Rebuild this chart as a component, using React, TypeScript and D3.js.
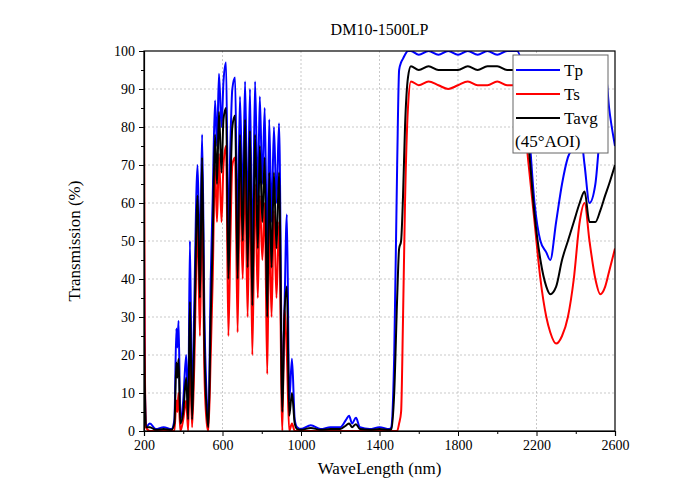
import { useEffect, useRef } from 'react';
import * as d3 from 'd3';

const wavelength = [200, 204, 210, 230, 260, 300, 340, 355, 365, 370, 376, 385, 400, 415, 425, 434, 445, 455, 473, 485, 496, 508, 520, 528, 540, 550, 562, 572, 582, 595, 605, 618, 630, 640, 650, 664, 677, 689, 703, 715, 728, 740, 752, 766, 780, 790, 803, 815, 828, 838, 850, 862, 875, 888, 905, 915, 928, 940, 954, 968, 980, 1000, 1050, 1100, 1150, 1200, 1230, 1245, 1260, 1280, 1300, 1350, 1400, 1450, 1460, 1475, 1490, 1500, 1510, 1520, 1530, 1545, 1560, 1600, 1650, 1700, 1750, 1800, 1850, 1900, 1950, 2000, 2050, 2100, 2130, 2160, 2190, 2220, 2250, 2270, 2300, 2330, 2360, 2390, 2420, 2445, 2470, 2500, 2525, 2550, 2570, 2600];
const tp = [49, 15, 1, 2, 0.5, 1, 0.5, 3, 27, 22, 29, 3, 8, 20, 5, 50, 5, 30, 70, 45, 78, 30, 8, 2, 40, 61, 87, 75, 94, 80, 92, 97, 51, 75, 90, 93, 52, 88, 60, 92, 55, 90, 45, 92, 60, 88, 65, 85, 45, 82, 55, 80, 60, 81, 10, 30, 57, 8, 19, 3, 1, 0.5, 1.5, 0.5, 1, 1, 3, 4, 2, 3.5, 1, 0.5, 1, 0.5, 1, 20, 70, 95, 97, 98, 99, 100, 100, 99, 100, 99, 100, 99, 100, 99, 100, 99, 100, 100, 95, 80, 60, 50, 47, 45, 55, 65, 72, 75, 80, 70, 60, 65, 80, 95, 85, 75];
const ts = [85, 20, 1, 0, 0, 0, 0, 0, 8, 5, 10, 0, 3, 8, 0, 19, 1, 15, 54, 25, 62, 15, 2, 0, 20, 40, 70, 55, 73, 55, 70, 75, 25, 50, 70, 72, 26, 68, 40, 70, 30, 68, 20, 65, 35, 62, 45, 60, 15, 55, 30, 58, 35, 55, 0, 32, 20, 0, 2, 0, 0, 0, 0, 0, 0, 0, 0, 0, 0, 0, 0, 0, 0, 0, 0, 0, 0, 2, 5, 30, 60, 85, 92, 91, 92, 91, 90, 91, 92, 91, 91, 92, 91, 91, 85, 70, 55, 40, 30, 26, 23, 25, 30, 40, 55, 60, 50, 40, 36, 38, 42, 48];
const tavg = [27, 12, 1, 1, 0.3, 0.5, 0.3, 2, 18, 14, 19, 2, 5, 14, 3, 34, 3, 22, 62, 35, 72, 22, 5, 1, 30, 50, 78, 65, 84, 68, 82, 85, 40, 63, 80, 83, 40, 78, 50, 82, 43, 79, 33, 78, 48, 75, 55, 72, 30, 68, 43, 68, 48, 68, 5, 30, 38, 4, 10, 2, 0.5, 0.3, 0.8, 0.3, 0.5, 0.5, 1.5, 2, 1, 1.8, 0.5, 0.3, 0.5, 0.3, 0.5, 10, 35, 48, 50, 62, 80, 93, 96, 95, 96, 95, 95, 95, 96, 95, 96, 96, 95, 95, 90, 75, 57, 45, 38, 36, 38, 45, 50, 55, 60, 63, 55, 55, 58, 62, 65, 70];
const xTicks = [200, 600, 1000, 1400, 1800, 2200, 2600];
const yTicks = [0, 10, 20, 30, 40, 50, 60, 70, 80, 90, 100];
const seriesNames = ['Tp', 'Ts', 'Tavg'];
const seriesColors = ['#0000ff', '#ff0000', '#000000'];

export default function App() {
  const ref = useRef<SVGSVGElement>(null);

  useEffect(() => {
    if (!ref.current) return;
    const svg = d3.select(ref.current);
    svg.selectAll('*').remove();
    const font = '"Liberation Serif", "Times New Roman", serif';

    const margin = { top: 51, left: 144 };
    const width = 471;
    const height = 380;
    const x = d3.scaleLinear().domain([200, 2600]).range([0, width]);
    const y = d3.scaleLinear().domain([0, 100]).range([height, 0]);

    const g = svg.append('g').attr('transform', `translate(${margin.left},${margin.top})`);

    // grid
    g.selectAll('.gx').data(xTicks.slice(1, -1)).enter().append('line')
      .attr('x1', d => x(d)).attr('x2', d => x(d)).attr('y1', 0).attr('y2', height)
      .attr('stroke', '#bbb').attr('stroke-dasharray', '2,2').attr('stroke-width', 0.8);
    g.selectAll('.gy').data(yTicks.slice(1, -1)).enter().append('line')
      .attr('x1', 0).attr('x2', width).attr('y1', d => y(d)).attr('y2', d => y(d))
      .attr('stroke', '#bbb').attr('stroke-dasharray', '2,2').attr('stroke-width', 0.8);

    const defs = svg.append('defs');
    defs.append('clipPath').attr('id', 'clip').append('rect').attr('width', width).attr('height', height);

    const line = d3.line<number>().x((_, i) => x(wavelength[i])).y(d => y(d)).curve(d3.curveMonotoneX);
    [tp, ts, tavg].forEach((s, k) => {
      g.append('path').datum(s).attr('d', line).attr('fill', 'none')
        .attr('stroke', seriesColors[k]).attr('stroke-width', 2)
        .attr('clip-path', 'url(#clip)');
    });

    // frame
    g.append('rect').attr('width', width).attr('height', height)
      .attr('fill', 'none').attr('stroke', '#000').attr('stroke-width', 1.2);

    const xAxis = g.append('g').attr('transform', `translate(0,${height})`)
      .call(d3.axisBottom(x).tickValues(xTicks).tickSize(5).tickPadding(4).tickFormat(d3.format('d')));
    g.append('g').attr('transform', `translate(0,${height})`)
      .call(d3.axisBottom(x).tickValues(d3.range(400, 2600, 400)).tickSize(3).tickFormat(() => ''))
      .select('.domain').remove();
    const yAxis = g.append('g')
      .call(d3.axisLeft(y).tickValues(yTicks).tickSize(5).tickPadding(4));
    g.append('g')
      .call(d3.axisLeft(y).tickValues(d3.range(5, 100, 10)).tickSize(3).tickFormat(() => ''))
      .select('.domain').remove();
    [xAxis, yAxis].forEach(a => {
      a.selectAll('text').attr('font-family', font).attr('font-size', 14).attr('fill', '#000');
      a.select('.domain').attr('stroke-width', 1.2);
    });

    svg.append('text').attr('x', margin.left + width / 2).attr('y', 35).attr('text-anchor', 'middle')
      .attr('font-family', font).attr('font-size', 16).text('DM10-1500LP');
    svg.append('text').attr('x', margin.left + width / 2).attr('y', 474).attr('text-anchor', 'middle')
      .attr('font-family', font).attr('font-size', 17).text('WaveLength (nm)');
    svg.append('text').attr('transform', `translate(80,${margin.top + height / 2}) rotate(-90)`)
      .attr('text-anchor', 'middle').attr('font-family', font).attr('font-size', 17).text('Transmission (%)');

    // legend
    const lg = svg.append('g').attr('transform', 'translate(513,55)');
    lg.append('rect').attr('width', 95).attr('height', 98).attr('fill', '#fff')
      .attr('stroke', '#666').attr('stroke-width', 1);
    seriesNames.forEach((n, i) => {
      const yy = 15 + i * 24;
      lg.append('line').attr('x1', 3).attr('x2', 47).attr('y1', yy).attr('y2', yy)
        .attr('stroke', seriesColors[i]).attr('stroke-width', 1.8);
      lg.append('text').attr('x', 51).attr('y', yy + 6).attr('font-family', font)
        .attr('font-size', 17).text(n);
    });
    lg.append('text').attr('x', 2).attr('y', 92).attr('font-family', font)
      .attr('font-size', 17).text('(45°AOI)');
  }, []);

  return <svg ref={ref} width={700} height={498} style={{ display: 'block', margin: -8 }} />;
}
